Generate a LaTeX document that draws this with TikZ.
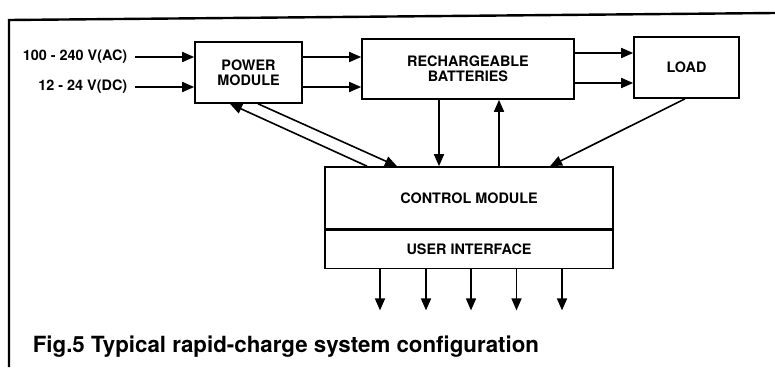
\documentclass[tikz,border=0pt]{standalone}
\usepackage{fontspec}
\setmainfont{TeX Gyre Heros}
\usetikzlibrary{arrows.meta,positioning}

\begin{document}
\begin{tikzpicture}[x=1pt,y=-1pt,
    line width=1.6pt,
    block/.style={draw,rectangle,inner sep=0pt,align=center,
                  font=\fontsize{14.4}{15}\selectfont\bfseries},
    label/.style={inner sep=0pt,font=\fontsize{14.4}{15}\selectfont\bfseries},
    arr/.style={-{Triangle[length=12pt,width=10pt]}},
    rarr/.style={{Triangle[length=12pt,width=10pt]}-}]
  \useasboundingbox (0,0) rectangle (775,367);
  % frame
  \draw[line width=2.4pt] (9,367) -- (9,20) -- (775,13);
  % blocks
  \node[block,minimum width=107pt,minimum height=61pt] (power) at (248.5,72.5) {POWER\\MODULE};
  \node[block,minimum width=212pt,minimum height=60pt] (batt) at (468,69) {RECHARGEABLE\\BATTERIES};
  \node[block,minimum width=105pt,minimum height=61pt] (load) at (686.5,67.5) {LOAD};
  \node[block,minimum width=288pt,minimum height=62pt] (ctrl) at (469,198) {CONTROL MODULE};
  \node[block,minimum width=288pt,minimum height=38pt,below=0pt of ctrl] (ui) {USER INTERFACE};
  % inputs
  \node[label,anchor=east] (ac) at (128,57) {100 - 240 V(AC)};
  \node[label,anchor=east] (dc) at (128,87) {12 - 24 V(DC)};
  \draw[arr,shorten <=7pt] (ac.east) -- (ac.east -| power.west);
  \draw[arr,shorten <=7pt] (dc.east) -- (dc.east -| power.west);
  % power to batteries to load
  \draw[arr] ([yshift=15.5pt]power.east) -- ([yshift=15.5pt]power.east -| batt.west);
  \draw[arr] ([yshift=-14.5pt]power.east) -- ([yshift=-14.5pt]power.east -| batt.west);
  \draw[arr] ([yshift=16pt]batt.east) -- ([yshift=16pt]batt.east -| load.west);
  \draw[arr] ([yshift=-14pt]batt.east) -- ([yshift=-14pt]batt.east -| load.west);
  % links to the control module
  \draw[rarr] ([xshift=-18.5pt]power.south) -- ([xshift=-102pt]ctrl.north);
  \draw[arr] ([xshift=9.5pt]power.south) -- ([xshift=-72pt]ctrl.north);
  \draw[arr] ([xshift=-29pt]batt.south) -- ([xshift=-29pt]batt.south |- ctrl.north);
  \draw[rarr] ([xshift=31pt]batt.south) -- ([xshift=31pt]batt.south |- ctrl.north);
  \draw[arr] ([xshift=-1.5pt]load.south) -- ([xshift=81pt]ctrl.north);
  % outputs
  \foreach \dx [count=\i] in {-89,-43,2,47.5,93}{
    \coordinate (out\i) at ([xshift=\dx pt,yshift=-41pt]ui.south);
    \draw[arr] ([xshift=\dx pt]ui.south) -- (out\i);
  }
  % caption
  \node[inner sep=0pt,anchor=base west,font=\fontsize{22.3}{24}\selectfont\bfseries] (caption)
      at (32,352) {Fig.5 Typical rapid-charge system configuration};
\end{tikzpicture}
\end{document}
